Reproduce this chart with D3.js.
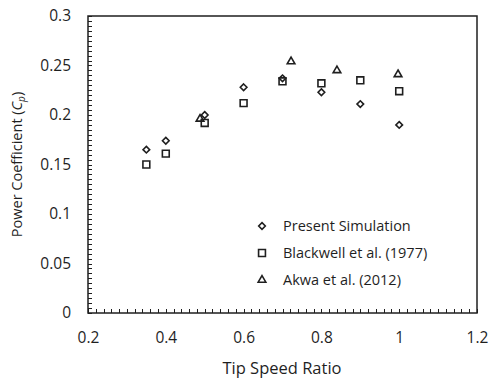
<!DOCTYPE html>
<html><head><meta charset="utf-8">
<script src="https://cdn.jsdelivr.net/npm/d3@7"></script>
<style>html,body{margin:0;padding:0;background:#fff;}svg{display:block;}</style>
</head><body>
<svg id="chart" width="489" height="379"></svg>
<script>
// Data
const simX = [0.35, 0.4, 0.5, 0.6, 0.7, 0.8, 0.9, 1.0];
const simY = [0.165, 0.174, 0.200, 0.228, 0.237, 0.223, 0.211, 0.190];
const blackX = [0.35, 0.4, 0.5, 0.6, 0.7, 0.8, 0.9, 1.0];
const blackY = [0.150, 0.161, 0.192, 0.212, 0.234, 0.232, 0.235, 0.224];
const akwaX = [0.488, 0.722, 0.84, 0.997];
const akwaY = [0.196, 0.254, 0.245, 0.241];
const xTicks = [0.2, 0.4, 0.6, 0.8, 1, 1.2];
const yTicks = [0, 0.05, 0.1, 0.15, 0.2, 0.25, 0.3];
const legendLabels = ["Present Simulation", "Blackwell et al. (1977)", "Akwa et al. (2012)"];

const W = 489, H = 379;
const m = {l: 88, r: 12, t: 16, b: 66};
const svg = d3.select("#chart");
const font = "Open Sans, sans-serif";
const ink = "#1f1f1f";

const x = d3.scaleLinear().domain([0.2, 1.2]).range([m.l, W - m.r]);
const y = d3.scaleLinear().domain([0, 0.3]).range([H - m.b, m.t]);

// minor ticks (inside)
const xMinor = d3.range(0.2, 1.2001, 0.02);
const yMinor = d3.range(0, 0.3001, 0.005);
svg.append("g").selectAll("line").data(xMinor).join("line")
  .attr("x1", d => Math.round(x(d)) + 0.5).attr("x2", d => Math.round(x(d)) + 0.5)
  .attr("y1", y(0)).attr("y2", y(0) - 4)
  .attr("stroke", ink).attr("stroke-width", 1);
svg.append("g").selectAll("line").data(yMinor).join("line")
  .attr("y1", d => Math.round(y(d)) + 0.5).attr("y2", d => Math.round(y(d)) + 0.5)
  .attr("x1", x(0.2)).attr("x2", x(0.2) + 4)
  .attr("stroke", ink).attr("stroke-width", 1);

// frame
svg.append("rect").attr("x", m.l).attr("y", m.t)
  .attr("width", W - m.l - m.r).attr("height", H - m.t - m.b)
  .attr("fill", "none").attr("stroke", ink).attr("stroke-width", 1.5);

// axes labels via d3 axes
const xAxis = d3.axisBottom(x).tickValues(xTicks).tickSize(0).tickPadding(19)
  .tickFormat(d => d3.format("~g")(d));
const gx = svg.append("g").attr("transform", `translate(0,${y(0)})`).call(xAxis);
gx.select(".domain").remove();
gx.selectAll("text").attr("font-family", font).attr("font-size", 15.5).attr("fill", ink);

const yAxis = d3.axisLeft(y).tickValues(yTicks).tickSize(0).tickPadding(17)
  .tickFormat(d => d3.format("~g")(d));
const gy = svg.append("g").attr("transform", `translate(${x(0.2)},0)`).call(yAxis);
gy.select(".domain").remove();
gy.selectAll("text").attr("font-family", font).attr("font-size", 15.5).attr("fill", ink);

// axis titles
svg.append("text").attr("x", 282).attr("y", 374)
  .attr("text-anchor", "middle").attr("font-family", font).attr("font-size", 16.5)
  .attr("fill", ink).text("Tip Speed Ratio");
const yt = svg.append("text").attr("transform", `translate(22,${(m.t + H - m.b) / 2}) rotate(-90)`)
  .attr("text-anchor", "middle").attr("font-family", font).attr("font-size", 14.5).attr("fill", ink);
yt.append("tspan").text("Power Coefficient (");
yt.append("tspan").attr("font-style", "italic").text("C");
yt.append("tspan").attr("font-style", "italic").attr("font-size", 10).attr("dy", 3).text("p");
yt.append("tspan").attr("dy", -3).text(")");

// markers
const sym = {
  diamond: d3.symbol().type(d3.symbolDiamond2).size(28),
  square: d3.symbol().type(d3.symbolSquare2).size(60),
  triangle: d3.symbol().type(d3.symbolTriangle2).size(42)
};
function plot(xs, ys, s) {
  svg.append("g").selectAll("path").data(xs.map((v, i) => [v, ys[i]])).join("path")
    .attr("transform", d => `translate(${x(d[0])},${y(d[1])})`)
    .attr("d", sym[s]).attr("fill", "none").attr("stroke", ink).attr("stroke-width", 1.6);
}
plot(akwaX, akwaY, "triangle");
plot(blackX, blackY, "square");
plot(simX, simY, "diamond");

// legend
const lg = svg.append("g");
const types = ["diamond", "square", "triangle"];
legendLabels.forEach((t, i) => {
  const cy = 226 + i * 27;
  lg.append("path").attr("transform", `translate(262,${cy})`).attr("d", sym[types[i]])
    .attr("fill", "none").attr("stroke", ink).attr("stroke-width", 1.6);
  lg.append("text").attr("x", 283).attr("y", cy).attr("dy", "0.35em")
    .attr("font-family", font).attr("font-size", 14.5).attr("fill", ink).text(t);
});
</script>
</body></html>
